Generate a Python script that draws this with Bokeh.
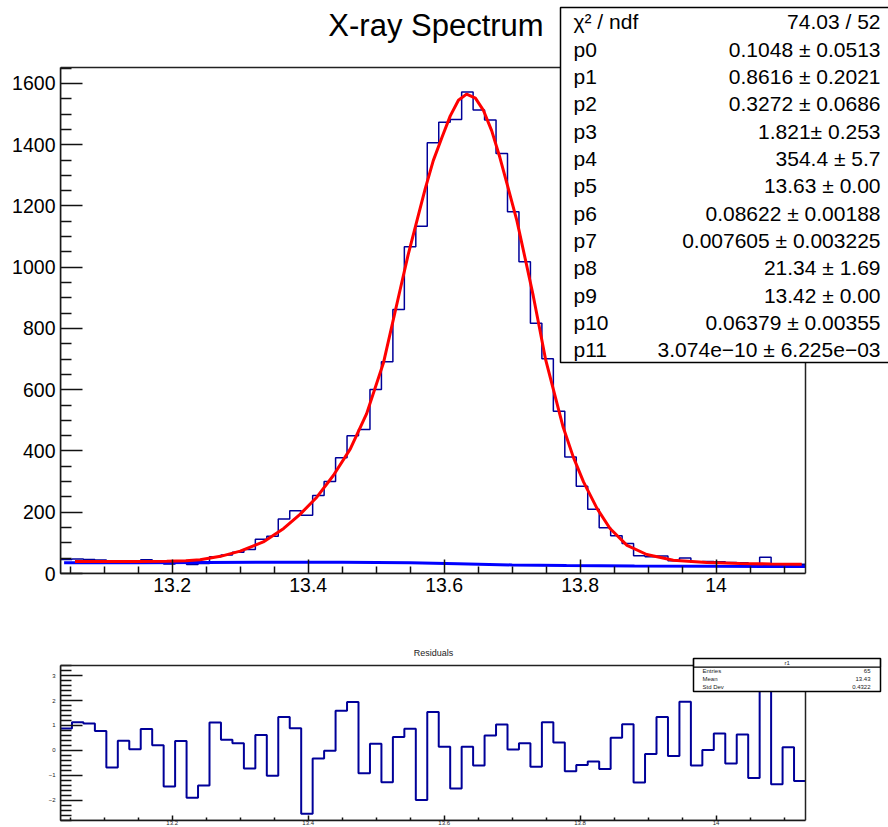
import numpy as np
from bokeh.plotting import figure
from bokeh.models import (Range1d, FixedTicker, NumeralTickFormatter, Label, BoxAnnotation)
from bokeh.layouts import column
from bokeh.embed import file_html
from bokeh.resources import INLINE

# ---------------- data ----------------
X_MIN = 13.0357
X_MAX = 14.1315
N_BINS = 65
Y_MAX = 1652
YR_MIN, YR_MAX = -2.82, 3.41

counts = [46, 47, 46, 44, 36, 42, 40, 45, 41, 31, 42, 29, 33, 55, 60, 69, 78, 112, 122, 178,
          205, 190, 255, 300, 378, 450, 470, 601, 691, 862, 1067, 1134, 1406, 1473, 1482, 1572,
          1513, 1481, 1371, 1181, 1018, 817, 701, 530, 380, 285, 210, 149, 123, 98,
          58, 55, 57, 42, 51, 37, 39, 38, 36, 35, 31, 53, 30, 32, 30]

fit_x = [13.057, 13.10, 13.15, 13.192, 13.22, 13.241, 13.271, 13.300, 13.334, 13.364,
         13.388, 13.413, 13.437, 13.462, 13.486, 13.511, 13.535, 13.547, 13.560, 13.572,
         13.584, 13.597, 13.609, 13.621, 13.633, 13.646, 13.658, 13.670, 13.682, 13.694,
         13.707, 13.719, 13.731, 13.740, 13.749, 13.761, 13.775, 13.790, 13.805, 13.825,
         13.844, 13.869, 13.898, 13.937, 13.986, 14.035, 14.080, 14.126]
fit_y = [39, 39, 39.5, 40, 42, 45, 56, 73, 103, 147,
         193, 250, 320, 407, 522, 690, 924, 1040, 1152, 1255,
         1348, 1425, 1494, 1545, 1565, 1552, 1511, 1445, 1358, 1260,
         1152, 1030, 907, 805, 701, 598, 478, 380, 299, 212,
         147, 92, 62, 43, 36, 33, 31, 30]

bkg_x = [13.041, 13.15, 13.25, 13.35, 13.45, 13.55, 13.62, 13.70, 13.78, 13.88, 14.00, 14.1315]
bkg_y = [35, 35.5, 36, 36.5, 36.5, 35, 32, 28, 26, 24.5, 23.5, 23]

residuals = [0.88, 1.13, 1.08, 0.78, -0.69, 0.39, 0.04, 0.86, 0.2, -1.45,
             0.38, -1.91, -1.41, 1.12, 0.43, 0.28, -0.73, 0.62, -1.02, 1.34,
             0.89, -2.55, -0.33, -0.02, 1.59, 1.94, -0.92, 0.26, -1.28, 0.54,
             0.87, -2.0, 1.54, 0.14, -1.53, 0.14, -0.61, 0.6, 1.04, 0.03,
             0.28, -0.66, 1.13, 0.32, -0.84, -0.59, -0.45, -0.75, 0.51, 1.05,
             -1.29, -0.15, 1.34, -0.23, 1.95, -0.61, 0.01, 0.68, -0.53, 0.64,
             -1.11, 3.1, -1.36, 0.12, -1.23]

x_ticks = [13.2, 13.4, 13.6, 13.8, 14.0]
y_ticks = [0, 200, 400, 600, 800, 1000, 1200, 1400, 1600]
resid_y_ticks = [-2, -1, 0, 1, 2, 3]

title_text = "X-ray Spectrum"
stat_names = ["χ² / ndf", "p0", "p1", "p2", "p3", "p4", "p5", "p6", "p7", "p8", "p9", "p10", "p11"]
stat_values = ["74.03 / 52", "0.1048 ± 0.0513", "0.8616 ± 0.2021", "0.3272 ± 0.0686",
               "1.821± 0.253", "354.4 ± 5.7", "13.63 ± 0.00", "0.08622 ± 0.00188",
               "0.007605 ± 0.003225", "21.34 ± 1.69", "13.42 ± 0.00", "0.06379 ± 0.00355",
               "3.074e−10 ± 6.225e−03"]

resid_title_text = "Residuals"
resid_box_title = "r1"
resid_stat_names = ["Entries", "Mean", "Std Dev"]
resid_stat_values = ["65", "13.43", "0.4322"]

# ---------------- layout constants (page pixels) ----------------
W = 888
TOP_H = 615
BOT_H = 212
FL, FR = 60, 805           # visible frame left/right
FT, FB = 67, 573           # top visible frame top/bottom
BT, BB = 665, 820          # residual visible frame top/bottom
FONT = "Liberation Sans"
HIST_COLOR = "#000099"

edges = np.linspace(X_MIN, X_MAX, N_BINS + 1)


def tx(px):
    return X_MIN + (px - FL) / (FR - FL) * (X_MAX - X_MIN)


def ty(py):
    return Y_MAX * (FB - py) / (FB - FT)


def by(py):
    return YR_MIN + (BB - py) / (BB - BT) * (YR_MAX - YR_MIN)


minor_x = [round(v, 4) for v in np.arange(13.05, X_MAX, 0.05)
           if all(abs(v - t) > 1e-6 for t in x_ticks)]
minor_y = [v for v in range(50, 1651, 50) if v % 200 != 0]
minor_ry = [round(v, 2) for v in np.arange(-2.8, 3.41, 0.2)
            if all(abs(v - t) > 1e-6 for t in resid_y_ticks)]


def style_axis(ax, size, color):
    ax.axis_line_width = 1.5
    ax.axis_line_color = "#111111"
    ax.major_tick_out = 0
    ax.minor_tick_out = 0
    ax.major_tick_line_width = 1.5
    ax.minor_tick_line_width = 1.5
    ax.major_tick_line_color = "#111111"
    ax.minor_tick_line_color = "#111111"
    ax.major_label_text_font = FONT
    ax.major_label_text_font_size = size
    ax.major_label_text_color = color


# ---------------- top figure ----------------
# The frame spans the whole right/top area so the stats box and title can sit inside it.
p = figure(width=W, height=TOP_H, output_backend="svg", toolbar_location=None,
           x_range=Range1d(X_MIN, tx(W)), y_range=Range1d(0, ty(0)),
           min_border_left=FL, min_border_right=0, min_border_top=0,
           min_border_bottom=TOP_H - FB)
p.xgrid.visible = False
p.ygrid.visible = False
p.outline_line_color = None
p.background_fill_color = "white"
p.border_fill_color = "white"

p.xaxis.ticker = FixedTicker(ticks=x_ticks, minor_ticks=minor_x)
p.xaxis.formatter = NumeralTickFormatter(format="0.[0]")
p.xaxis.bounds = (X_MIN, X_MAX)
p.yaxis.ticker = FixedTicker(ticks=y_ticks, minor_ticks=minor_y)
p.yaxis.bounds = (0, Y_MAX)
style_axis(p.xaxis[0], "19.5px", "black")
style_axis(p.yaxis[0], "19.5px", "black")
p.xaxis.major_tick_in = 14
p.xaxis.minor_tick_in = 7
p.xaxis.major_label_standoff = 4
p.yaxis.major_tick_in = 22
p.yaxis.minor_tick_in = 11
p.yaxis.major_label_standoff = 5

p.step(x=list(edges), y=counts + [counts[-1]], mode="after", line_color=HIST_COLOR, line_width=1.5)
p.line(bkg_x, bkg_y, line_color="#0000ff", line_width=3)
p.line(fit_x, fit_y, line_color="#ff0000", line_width=3)

# visible frame (top and right edges)
p.add_layout(BoxAnnotation(left=X_MIN, right=X_MAX, bottom=0, top=Y_MAX,
                           fill_alpha=0.0, line_color="#222222", line_width=1.5, line_alpha=1.0))

p.add_layout(Label(x=tx(435.5), y=ty(25), text=title_text, text_align="center",
                   text_baseline="middle", text_font=FONT, text_font_size="31px", text_color="black"))

p.add_layout(BoxAnnotation(left=tx(560), right=tx(895), top=ty(7), bottom=ty(362),
                           fill_color="white", fill_alpha=1.0, line_color="black", line_width=1.5,
                           line_alpha=1.0))
for i, (nm, val) in enumerate(zip(stat_names, stat_values)):
    yy = ty(21.2 + i * 27.35)
    p.add_layout(Label(x=tx(573), y=yy, text=nm, text_align="left", text_baseline="middle",
                       text_font=FONT, text_font_size="21px", text_color="black"))
    p.add_layout(Label(x=tx(880), y=yy, text=val, text_align="right", text_baseline="middle",
                       text_font=FONT, text_font_size="21px", text_color="black"))

# ---------------- bottom (residuals) figure ----------------
r = figure(width=W, height=BOT_H, output_backend="svg", toolbar_location=None,
           x_range=Range1d(X_MIN, tx(W)), y_range=Range1d(YR_MIN, by(TOP_H)),
           min_border_left=FL, min_border_right=0, min_border_top=0,
           min_border_bottom=TOP_H + BOT_H - BB)
r.xgrid.visible = False
r.ygrid.visible = False
r.outline_line_color = None
r.background_fill_color = "white"
r.border_fill_color = "white"

r.xaxis.ticker = FixedTicker(ticks=x_ticks, minor_ticks=minor_x)
r.xaxis.formatter = NumeralTickFormatter(format="0.[0]")
r.xaxis.bounds = (X_MIN, X_MAX)
r.yaxis.ticker = FixedTicker(ticks=resid_y_ticks, minor_ticks=minor_ry)
r.yaxis.bounds = (YR_MIN, YR_MAX)
r.yaxis.major_label_overrides = {-1: "−1", -2: "−2"}
style_axis(r.xaxis[0], "6px", "#222222")
style_axis(r.yaxis[0], "6px", "#222222")
r.xaxis.major_tick_in = 5
r.xaxis.minor_tick_in = 3
r.xaxis.major_label_standoff = 0
r.yaxis.major_tick_in = 22
r.yaxis.minor_tick_in = 11
r.yaxis.major_label_standoff = 5

r.step(x=list(edges), y=residuals + [residuals[-1]], mode="after", line_color=HIST_COLOR, line_width=2)

r.add_layout(BoxAnnotation(left=X_MIN, right=X_MAX, bottom=YR_MIN, top=YR_MAX,
                           fill_alpha=0.0, line_color="#222222", line_width=1.5, line_alpha=1.0))

r.add_layout(Label(x=tx(433), y=by(652.7), text=resid_title_text, text_align="center",
                   text_baseline="middle", text_font=FONT, text_font_size="9px", text_color="#222222"))

r.add_layout(BoxAnnotation(left=tx(693), right=tx(880), top=by(658), bottom=by(691),
                           fill_color="white", fill_alpha=1.0, line_color="black", line_width=1.5,
                           line_alpha=1.0))
r.add_layout(BoxAnnotation(left=tx(693), right=tx(880), top=by(658), bottom=by(666.7),
                           fill_alpha=0.0, line_color="black", line_width=1.2, line_alpha=1.0))
r.add_layout(Label(x=tx(786.7), y=by(662.5), text=resid_box_title, text_align="center",
                   text_baseline="middle", text_font=FONT, text_font_size="6px", text_color="#222222"))
for i, (nm, val) in enumerate(zip(resid_stat_names, resid_stat_values)):
    yy = by(670.0 + i * 8.1)
    r.add_layout(Label(x=tx(702), y=yy, text=nm, text_align="left", text_baseline="middle",
                       text_font=FONT, text_font_size="6px", text_color="#222222"))
    r.add_layout(Label(x=tx(870), y=yy, text=val, text_align="right", text_baseline="middle",
                       text_font=FONT, text_font_size="6px", text_color="#222222"))

layout = column(p, r, spacing=0)
open("out.html", "w").write(file_html(layout, INLINE))
